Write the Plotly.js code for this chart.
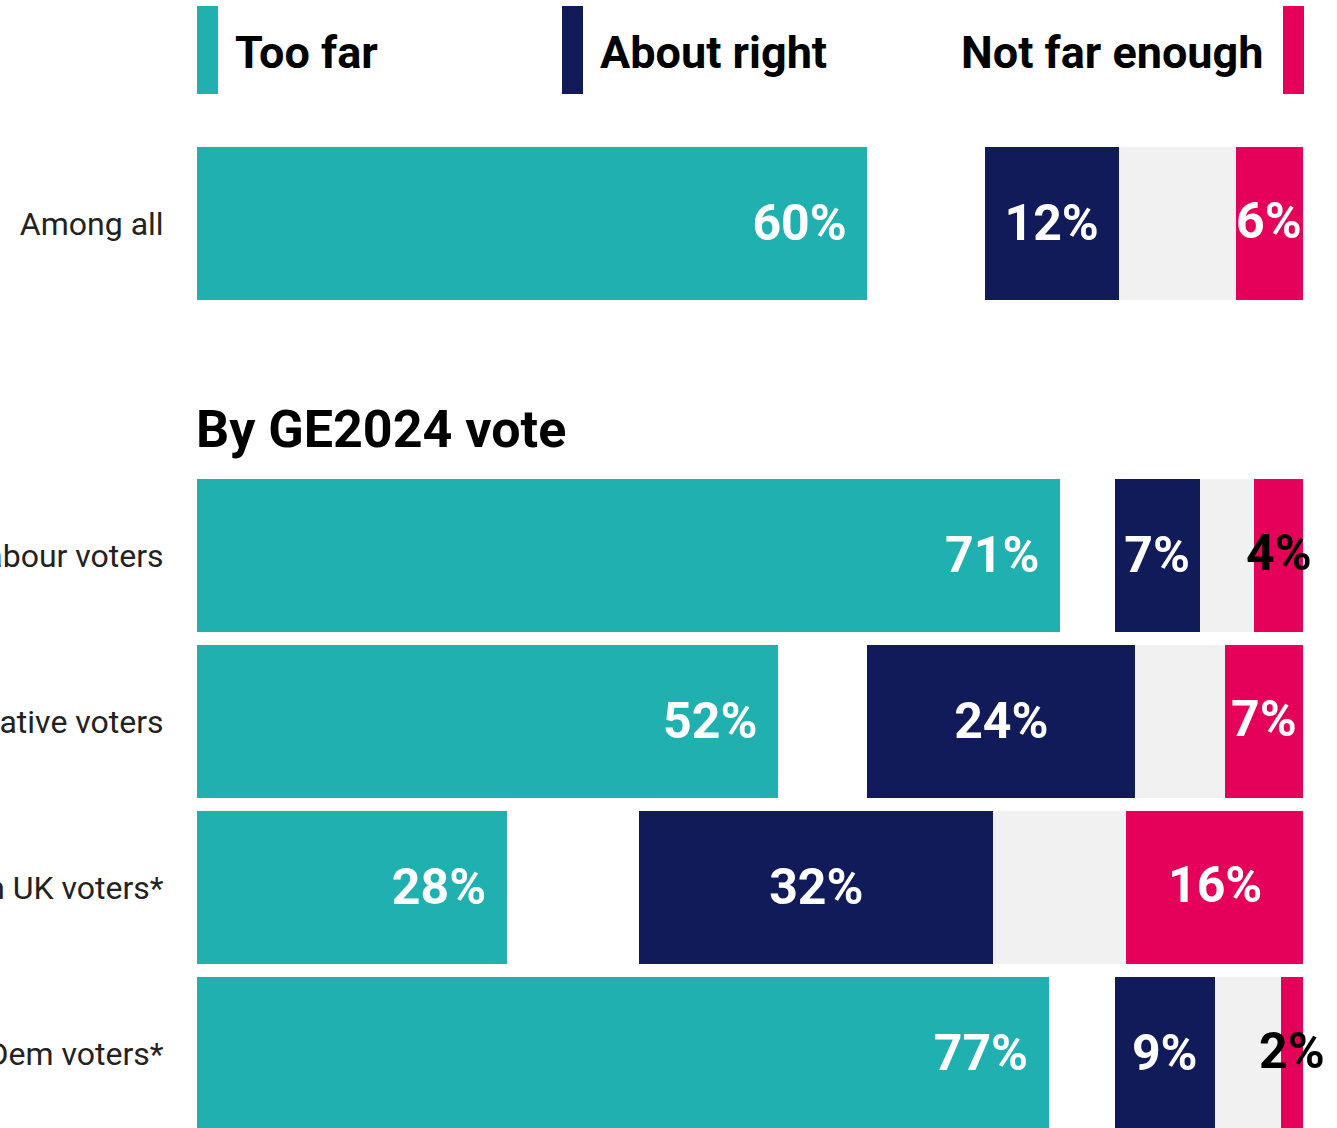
<!DOCTYPE html>
<html><head><meta charset="utf-8">
<script src="https://cdn.plot.ly/plotly-3.0.1.min.js"></script>
<style>html,body{margin:0;padding:0;background:#fff;}#chart{width:1337px;height:1128px;}</style>
</head><body><div id="chart"></div>
<script>
// ---- data ----
const rowLabels = ['Among all', 'Labour voters', 'Conservative voters', 'Reform UK voters*', 'Lib Dem voters*'];
const groupHeading = 'By GE2024 vote';
const seriesNames = ['Too far', 'About right', 'Not far enough'];
const tooFar = [60, 71, 52, 28, 77];
const aboutRight = [12, 7, 24, 32, 9];
const notFarEnough = [6, 4, 7, 16, 2];
const dontKnow = [21, 9, 16, 24, 12];

// ---- style ----
const C_TOO = '#1FB0AF', C_ABOUT = '#121B59', C_NOT = '#E5005A', C_DK = '#F1F1F1', C_SPACE = '#FFFFFF';
const FONT = 'Roboto, "Noto Sans", sans-serif';
const VAL_SIZE = 50;

// row slots: first row alone, then a blank slot for the group heading, then the group rows
const rowPos = rowLabels.map((_, i) => i === 0 ? 0 : i + 1);
const half = dontKnow.map(v => v / 2);
const pct = arr => arr.map(v => v + '%');
const pad = '\u00A0\u200A';

const common = {type: 'bar', orientation: 'h', y: rowPos, hoverinfo: 'skip', textangle: 0};

// centre of the "not far enough" segment, on the normalised (0-100) axis
const totals = rowLabels.map((_, i) => tooFar[i] + dontKnow[i] + aboutRight[i] + notFarEnough[i]);
const notCentre = rowLabels.map((_, i) => (tooFar[i] + dontKnow[i] + aboutRight[i] + notFarEnough[i] / 2) / totals[i] * 100);

const traces = [
  Object.assign({}, common, {name: seriesNames[0], x: tooFar, marker: {color: C_TOO, line: {width: 0}},
    text: tooFar.map(v => v + '%' + pad), textposition: 'inside', insidetextanchor: 'end', constraintext: 'none',
    insidetextfont: {family: FONT, size: VAL_SIZE, color: '#fff', weight: 700}}),
  Object.assign({}, common, {name: 'spacer', x: half, marker: {color: C_SPACE, line: {width: 0}}, textposition: 'none'}),
  Object.assign({}, common, {name: seriesNames[1], x: aboutRight, marker: {color: C_ABOUT, line: {width: 0}},
    text: pct(aboutRight), textposition: 'inside', insidetextanchor: 'middle', constraintext: 'none',
    insidetextfont: {family: FONT, size: VAL_SIZE, color: '#fff', weight: 700}}),
  Object.assign({}, common, {name: 'Don\u2019t know', x: half, marker: {color: C_DK, line: {width: 0}}, textposition: 'none'}),
  Object.assign({}, common, {name: seriesNames[2], x: notFarEnough, marker: {color: C_NOT, line: {width: 0}}, textposition: 'none'})
];

// labels of the "not far enough" segments, placed at the segment centres computed above
const notLabels = rowLabels.map((_, i) => ({
  text: notFarEnough[i] + '%', xref: 'x', yref: 'y', x: notCentre[i], y: rowPos[i],
  xanchor: 'center', yanchor: 'middle', yshift: 2, showarrow: false,
  font: {family: FONT, size: VAL_SIZE, weight: 700, color: notFarEnough[i] < 5 ? '#000' : '#fff'}
}));

// legend built from series names (tall swatches)
const plotW = 1337 - 197 - 34, plotH = 1128;
const px = v => v / plotW, py = v => 1 - v / plotH;
const legendColors = [C_TOO, C_ABOUT, C_NOT];
const swatchX = [0, 365, 1086];
const shapes = legendColors.map((c, i) => ({type: 'rect', xref: 'paper', yref: 'paper',
  x0: px(swatchX[i]), x1: px(swatchX[i] + 21), y0: py(94), y1: py(6), fillcolor: c, line: {width: 0}, layer: 'above'}));
const legFont = {family: FONT, size: 45, color: '#000', weight: 700};
const annotations = [
  {text: seriesNames[0], xref: 'paper', yref: 'paper', x: px(36), y: py(52), xanchor: 'left', yanchor: 'middle', showarrow: false, font: legFont},
  {text: seriesNames[1], xref: 'paper', yref: 'paper', x: px(401), y: py(52), xanchor: 'left', yanchor: 'middle', showarrow: false, font: legFont},
  {text: seriesNames[2], xref: 'paper', yref: 'paper', x: px(1068), y: py(52), xanchor: 'right', yanchor: 'middle', showarrow: false, font: legFont},
  {text: groupHeading, xref: 'paper', yref: 'y', x: -0.003, y: 1.24, xanchor: 'left', yanchor: 'middle', showarrow: false,
    font: {family: FONT, size: 52, color: '#000', weight: 700}}
].concat(notLabels);

const layout = {
  width: 1337, height: 1128, margin: {l: 197, r: 34, t: 0, b: 0, pad: 0},
  barmode: 'stack', barnorm: 'percent', bargap: 0.08,
  paper_bgcolor: '#fff', plot_bgcolor: '#fff', showlegend: false,
  xaxis: {range: [0, 100], visible: false, fixedrange: true},
  yaxis: {range: [5.449, -1.346], tickmode: 'array', tickvals: rowPos, ticktext: rowLabels,
    ticks: 'outside', ticklen: 26, tickcolor: 'rgba(0,0,0,0)', showgrid: false, zeroline: false, showline: false,
    tickfont: {family: FONT, size: 32, color: '#222'}, automargin: false, fixedrange: true},
  shapes: shapes, annotations: annotations
};

Plotly.newPlot('chart', traces, layout, {staticPlot: true, displayModeBar: false});
</script>
</body></html>
